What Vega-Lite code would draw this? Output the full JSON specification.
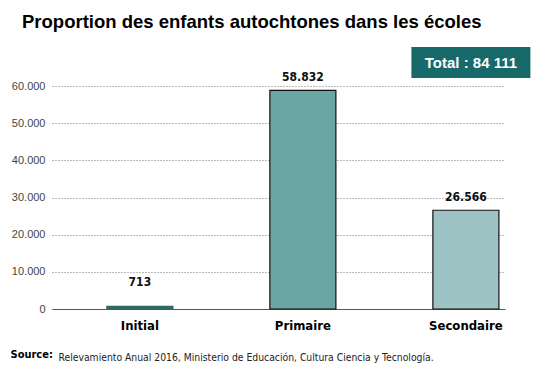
{
  "$schema": "https://vega.github.io/schema/vega-lite/v6.json",
  "autosize": "none",
  "width": 453,
  "height": 262,
  "padding": {"left": 52, "top": 47, "right": 42, "bottom": 70},
  "background": "white",
  "config": {
    "locale": {"number": {"decimal": ",", "thousands": ".", "grouping": [3], "currency": ["", ""]}},
    "view": {"stroke": null}
  },
  "title": {
    "text": "Proportion des enfants autochtones dans les écoles",
    "anchor": "start",
    "frame": "group",
    "dx": -30,
    "offset": 16,
    "font": "Liberation Sans",
    "fontSize": 18.5,
    "fontWeight": "bold",
    "color": "#000000"
  },
  "data": {"values": [
    {"niveau": "Initial", "eleves": 713},
    {"niveau": "Primaire", "eleves": 58832},
    {"niveau": "Secondaire", "eleves": 26566}
  ]},
  "encoding": {
    "x": {
      "field": "niveau", "type": "nominal", "sort": null,
      "scale": {"paddingInner": 0.595, "paddingOuter": 0.187, "align": 0.9},
      "axis": {
        "labelAngle": 0, "ticks": false, "domainColor": "#555555", "domainWidth": 1.2,
        "labelFont": "DejaVu Sans Condensed", "labelFontWeight": "bold", "labelFontSize": 13,
        "labelColor": "#000000", "labelPadding": 10,
        "title": "Relevamiento Anual 2016, Ministerio de Educación, Cultura Ciencia y Tecnología.",
        "titleFont": "DejaVu Sans Condensed", "titleFontWeight": "normal", "titleFontSize": 10.3,
        "titleColor": "#222222", "titleAnchor": "start", "titleAlign": "left",
        "titleBaseline": "alphabetic", "titleX": 6, "titleY": 51
      }
    },
    "y": {
      "field": "eleves", "type": "quantitative",
      "scale": {"domain": [0, 70500], "nice": false},
      "axis": {
        "values": [0, 10000, 20000, 30000, 40000, 50000, 60000],
        "format": ",.0f",
        "domain": false, "ticks": false,
        "gridDash": [1, 2], "gridColor": "#777777", "gridWidth": 1,
        "labelFont": "Liberation Sans", "labelFontSize": 11, "labelColor": "#444444", "labelPadding": 7,
        "title": "Source:", "titleAngle": 0, "titleAlign": "left", "titleBaseline": "alphabetic",
        "titleX": -42, "titleY": 310,
        "titleFont": "DejaVu Sans Condensed", "titleFontWeight": "bold", "titleFontSize": 11, "titleColor": "#000000"
      }
    }
  },
  "layer": [
    {
      "mark": {"type": "bar", "strokeWidth": 1.2},
      "encoding": {
        "color": {"field": "niveau", "type": "nominal", "legend": null,
          "scale": {"domain": ["Initial", "Primaire", "Secondaire"], "range": ["#2e6b60", "#6aa6a2", "#9ec3c4"]}},
        "stroke": {"field": "niveau", "type": "nominal", "legend": null,
          "scale": {"domain": ["Initial", "Primaire", "Secondaire"], "range": ["#2e6b60", "#111111", "#111111"]}}
      }
    },
    {
      "transform": [{"filter": "datum.niveau !== 'Initial'"}],
      "mark": {"type": "text", "baseline": "bottom", "dy": -6, "font": "DejaVu Sans Condensed", "fontWeight": "bold", "fontSize": 12, "color": "#111111"},
      "encoding": {"text": {"field": "eleves", "type": "quantitative", "format": ",.0f"}}
    },
    {
      "transform": [{"filter": "datum.niveau === 'Initial'"}],
      "mark": {"type": "text", "baseline": "bottom", "dy": -17, "font": "DejaVu Sans Condensed", "fontWeight": "bold", "fontSize": 12, "color": "#111111"},
      "encoding": {"text": {"field": "eleves", "type": "quantitative", "format": ",.0f"}}
    },
    {
      "transform": [{"filter": "datum.niveau === 'Secondaire'"}],
      "mark": {"type": "rect", "color": "#17696a", "width": 119, "xOffset": 5},
      "encoding": {
        "x": {"field": "niveau", "type": "nominal"},
        "y": {"datum": 62150, "type": "quantitative"},
        "y2": {"datum": 70500}
      }
    },
    {
      "transform": [{"filter": "datum.niveau === 'Secondaire'"}],
      "mark": {"type": "text", "text": "Total : 84 111", "font": "Liberation Sans", "fontWeight": "bold", "fontSize": 15, "color": "#ffffff", "baseline": "middle", "dx": 5},
      "encoding": {
        "x": {"field": "niveau", "type": "nominal"},
        "y": {"datum": 66300, "type": "quantitative"}
      }
    }
  ]
}
